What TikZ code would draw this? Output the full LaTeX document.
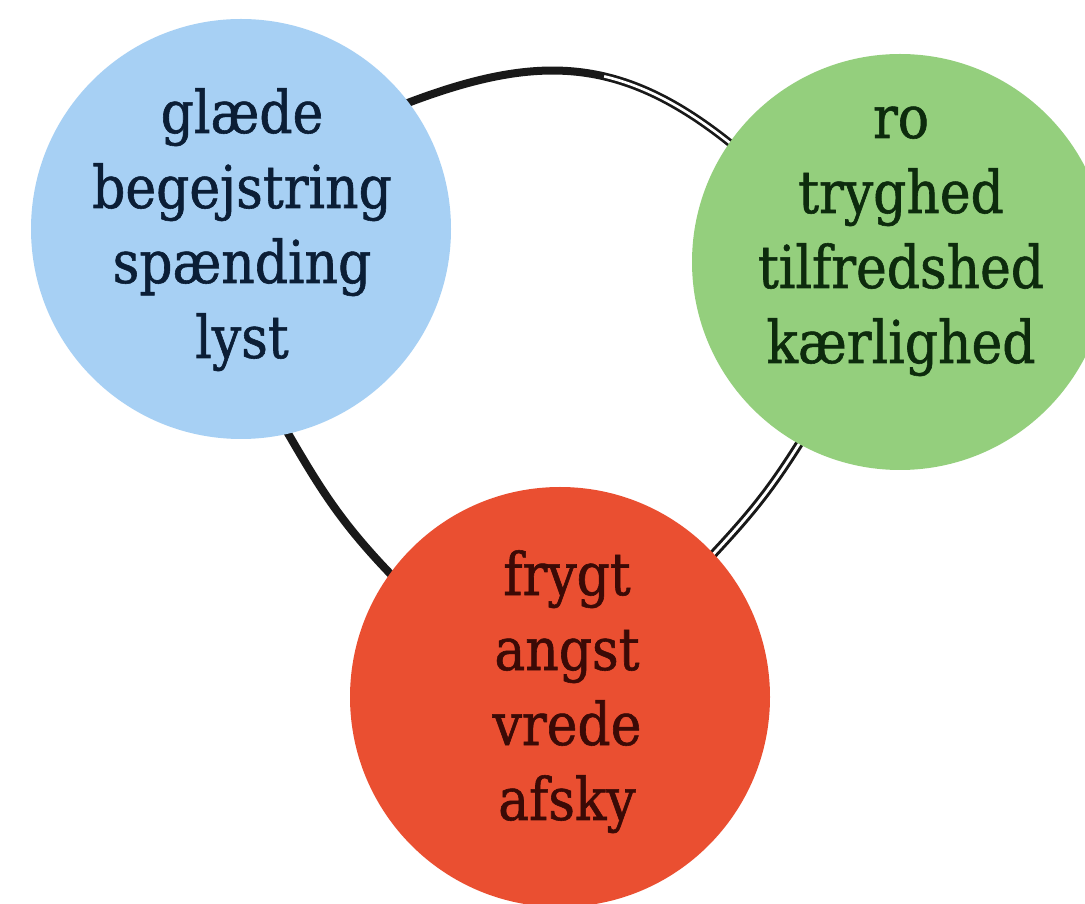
\documentclass[tikz,border=0pt]{standalone}
\usepackage{fontspec}
\setmainfont{DejaVu Serif}[FakeStretch=0.88, FakeBold=1]
\usetikzlibrary{backgrounds}
\definecolor{cblue}{HTML}{A7D0F4}
\definecolor{cgreen}{HTML}{94CF7D}
\definecolor{cred}{HTML}{EA4F31}
\definecolor{tblue}{HTML}{0B1E36}
\definecolor{tgreen}{HTML}{0D2B0D}
\definecolor{tred}{HTML}{3B0A06}
\tikzset{
  bubble/.style={circle, inner sep=0pt, draw=none},
  label text/.style={align=center, inner sep=0pt, font=\fontsize{59}{75}\selectfont},
  link/.style={line width=8pt, black!90, shorten <=-5pt, shorten >=-5pt},
  doublelink/.style={line width=3pt, black!90, double=white, double distance=2.8pt, shorten <=-5pt, shorten >=-5pt},
}
\begin{document}
\begin{tikzpicture}[x=1pt,y=1pt]
\useasboundingbox (0,0) rectangle (1085,903);
\node[bubble, fill=cblue, minimum size=420pt] (blue) at (241,674) {};
\node[bubble, fill=cgreen, minimum size=416pt] (green) at (900,641) {};
\node[bubble, fill=cred, minimum size=420pt] (red) at (560,206) {};
\node[label text, text=tblue] (tb) at (242,672.5) {\strut gl\ae de\\\strut begejstring\\\strut sp\ae nding\\\strut lyst};
\node[label text, text=tgreen] (tg) at (901,667.5) {\strut ro\\\strut tryghed\\\strut tilfredshed\\\strut k\ae rlighed};
\node[label text, text=tred] (tr) at (567,210.5) {\strut frygt\\\strut angst\\\strut vrede\\\strut afsky};
\begin{pgfonlayer}{background}
\fill[white] (0,0) rectangle (1085,903);
\draw[link] (blue.37) to[out=21, in=141, looseness=1.1] (green.145);
\draw[line width=2.6pt, white, shorten <=-5pt, shorten >=-5pt, dash pattern=on 0pt off 205pt on 400pt] (blue.37) to[out=21, in=141, looseness=1.1] (green.145);
\draw[doublelink] (green.-119) to[out=-122, in=47] (red.43);
\draw[link] (blue.-77) to[out=-60, in=134] (red.144);
\end{pgfonlayer}
\end{tikzpicture}
\end{document}
